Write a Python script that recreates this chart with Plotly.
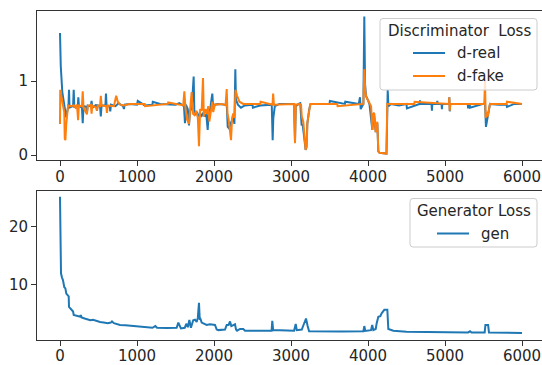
import plotly.graph_objects as go

# ---------------- data ----------------
real_steps = [0, 10, 30, 60, 80, 100, 110, 117, 124, 170, 178, 186, 230, 238, 246, 285, 295, 305,
              340, 350, 360, 400, 410, 420, 470, 480, 490, 520, 530, 540, 590, 597, 605, 645, 653, 662,
              720, 760, 820, 830, 840, 900, 1000, 1010, 1100, 1200, 1205, 1300, 1400, 1500, 1550, 1600,
              1610, 1623, 1635, 1660, 1675, 1690, 1710, 1736, 1745, 1760, 1780, 1800, 1820, 1840, 1860,
              1880, 1900, 1918, 1930, 1950, 1978, 1990, 2010, 2050, 2100, 2150, 2165, 2178, 2195, 2210,
              2230, 2250, 2265, 2277, 2285, 2310, 2350, 2400, 2500, 2505, 2600, 2700, 2750, 2762, 2770,
              2790, 2850, 2950, 3040, 3052, 3062, 3100, 3120, 3138, 3150, 3170, 3190, 3200, 3212, 3234,
              3250, 3270, 3400, 3500, 3505, 3700, 3705, 3880, 3896, 3905, 3940, 3952, 3962, 3974, 4004,
              4020, 4056, 4078, 4100, 4121, 4134, 4150, 4240, 4250, 4256, 4265, 4300, 4400, 4500, 4505,
              4670, 4675, 4680, 4825, 4830, 4835, 4895, 4900, 4905, 4955, 4960, 4965, 5050, 5056, 5062,
              5068, 5295, 5300, 5305, 5320, 5325, 5500, 5520, 5532, 5545, 5560, 5584, 5700, 5800, 5805,
              5900, 6000]
d_real = [1.65, 1.20, 0.85, 0.62, 0.51, 0.62, 0.66, 0.88, 0.64, 0.66, 0.88, 0.65, 0.64, 0.78, 0.66,
          0.64, 0.43, 0.66, 0.65, 0.57, 0.67, 0.66, 0.73, 0.64, 0.68, 0.60, 0.67, 0.66, 0.52, 0.67,
          0.67, 0.83, 0.66, 0.66, 0.59, 0.68, 0.66, 0.70, 0.66, 0.62, 0.68, 0.69, 0.68, 0.73, 0.67,
          0.68, 0.72, 0.69, 0.68, 0.68, 0.70, 0.66,
          0.66, 0.43, 0.68, 0.62, 0.40, 0.60, 0.62, 1.06, 0.58, 0.54, 0.58, 0.52, 0.56, 0.53, 0.57,
          0.52, 0.55, 0.34, 0.58, 0.62, 0.83, 0.62, 0.68, 0.69, 0.68, 0.68, 0.70, 0.38, 0.36, 0.40,
          0.45, 0.52, 0.42, 1.16, 0.75, 0.68, 0.64, 0.67, 0.68, 0.64, 0.67, 0.68, 0.68, 0.20, 0.50,
          0.66, 0.69, 0.69, 0.69, 0.18, 0.66, 0.69, 0.70, 0.40, 0.42, 0.25, 0.07, 0.10, 0.42, 0.60,
          0.68, 0.69, 0.69, 0.69, 0.73, 0.69, 0.72, 0.69, 0.78, 0.62, 0.69, 1.87, 0.95, 0.80, 0.73,
          0.68, 0.34, 0.57, 0.31, 0.43, 0.05, 0.03, 0.02, 0.69, 0.88, 0.66, 0.69, 0.67, 0.69, 0.63,
          0.69, 0.74, 0.69, 0.69, 0.60, 0.69, 0.69, 0.73, 0.69, 0.69, 0.62, 0.69, 0.69, 0.78, 0.59,
          0.69, 0.69, 0.63, 0.69, 0.69, 0.64, 0.69, 0.70, 0.38, 0.45, 0.55, 0.69, 0.68, 0.68, 0.65,
          0.69, 0.69]

fake_steps = [0, 3, 30, 55, 62, 70, 80, 95, 105, 130, 180, 200, 220, 235, 245, 285, 295, 305, 350,
              360, 400, 410, 420, 470, 480, 490, 520, 530, 540, 600, 610, 620, 700, 730, 750, 780, 830,
              900, 1100, 1105, 1400, 1405, 1600, 1615, 1630, 1650, 1675, 1690, 1710, 1725, 1745, 1770,
              1790, 1805, 1820, 1840, 1857, 1868, 1890, 1910, 1925, 1940, 1960, 1978, 1990, 2010, 2100,
              2150, 2165, 2175, 2190, 2205, 2221, 2235, 2250, 2265, 2280, 2300, 2330, 2380, 2600, 2605,
              2760, 2768, 2778, 3040, 3052, 3062, 3110, 3130, 3140, 3160, 3170, 3182, 3190, 3205, 3212,
              3230, 3250, 3600, 3605, 3940, 3952, 3965, 3980, 4004, 4020, 4040, 4056, 4067, 4078, 4090,
              4100, 4110, 4121, 4134, 4150, 4240, 4250, 4600, 4605, 5050, 5056, 5062, 5068, 5510, 5520,
              5528, 5540, 5555, 5570, 5584, 5800, 5805, 6000]
d_fake = [0.42, 0.88, 0.72, 0.58, 0.22, 0.20, 0.40, 0.60, 0.67, 0.66, 0.67, 0.64, 0.68, 0.47, 0.67,
          0.66, 0.86, 0.64, 0.55, 0.66, 0.68, 0.56, 0.67, 0.64, 0.60, 0.67, 0.66, 0.80, 0.67, 0.66,
          0.57, 0.67, 0.66, 0.80, 0.72, 0.68, 0.67, 0.69, 0.69, 0.66, 0.69, 0.71, 0.67, 0.86, 0.62,
          0.48, 0.42, 0.62, 0.85, 0.56, 0.54, 0.60, 0.50, 0.12, 0.62, 0.60, 1.04, 0.52, 0.62, 0.56,
          0.66, 0.45, 0.62, 0.72, 0.58, 0.68, 0.69, 0.67, 0.89, 0.56, 0.48, 0.34, 0.20, 0.50, 0.56,
          0.50, 0.88, 0.80, 0.72, 0.69, 0.69, 0.72, 0.68, 0.83, 0.68, 0.69, 0.16, 0.68, 0.69, 0.68,
          0.52, 0.45, 0.29, 0.20, 0.07, 0.12, 0.43, 0.55, 0.69, 0.69, 0.66, 0.69, 1.16, 0.85, 0.78,
          0.73, 0.70, 0.66, 0.34, 0.55, 0.57, 0.45, 0.31, 0.40, 0.45, 0.05, 0.03, 0.02, 0.69, 0.69,
          0.72, 0.69, 0.78, 0.60, 0.69, 0.69, 1.01, 0.50, 0.58, 0.52, 0.62, 0.69, 0.69, 0.72, 0.69]

gen_steps = [0, 5, 9, 13, 25, 39, 56, 70, 82, 100, 113, 117, 140, 156, 170, 178, 200, 230, 264, 270,
             280, 320, 394, 430, 480, 520, 567, 620, 660, 675, 700, 779, 850, 900, 1000, 1100, 1200,
             1238, 1260, 1390, 1500, 1515, 1537, 1555, 1570, 1620, 1640, 1660, 1680, 1700, 1730, 1753,
             1775, 1790, 1805, 1815, 1825, 1840, 1883, 1905, 1948, 2013, 2035, 2056, 2143, 2165, 2190,
             2208, 2225, 2245, 2273, 2286, 2300, 2338, 2380, 2403, 2748, 2757, 2768, 3040, 3061, 3075,
             3140, 3160, 3195, 3216, 3235, 3658, 3940, 3952, 3965, 4039, 4055, 4069, 4100, 4113, 4134,
             4160, 4177, 4212, 4251, 4264, 4300, 4329, 4500, 5000, 5300, 5325, 5345, 5515, 5525, 5560,
             5571, 6000]
gen = [25.1, 20.0, 14.8, 11.9, 11.2, 10.7, 9.5, 9.3, 8.4, 8.0, 7.9, 6.1, 5.8, 5.5, 5.3, 4.7, 4.6,
       4.5, 4.4, 4.7, 4.3, 4.1, 3.8, 3.9, 3.6, 3.5, 3.4, 3.3, 3.4, 3.6, 3.3, 3.0, 2.95, 2.9, 2.7, 2.6,
       2.5, 2.8, 2.5, 2.45, 2.4, 2.5, 3.4, 2.9, 2.4, 2.5, 3.2, 2.6, 3.85, 2.5, 3.8, 3.9, 3.5, 4.2, 6.8,
       3.9, 4.0, 3.4, 3.2, 3.0, 3.1, 3.0, 2.2, 2.1, 2.2, 3.0, 3.0, 3.6, 2.8, 2.9, 3.1, 2.2, 2.0, 2.3,
       2.3, 2.0, 2.0, 3.7, 2.1, 2.0, 3.15, 2.1, 2.2, 2.9, 4.1, 2.8, 1.9, 1.85, 1.9, 2.8, 1.95, 2.1,
       3.0, 2.1, 2.3, 3.3, 4.4, 4.5, 5.0, 5.6, 5.6, 2.3, 2.1, 2.0, 1.8, 1.7, 1.7, 1.9, 1.7, 1.7, 3.0,
       3.0, 1.7, 1.6]

x_ticks = [0, 1000, 2000, 3000, 4000, 5000, 6000]
top_y_ticks = [0, 1]
bottom_y_ticks = [10, 20]

top_legend_title = "Discriminator\u00a0\u00a0Loss"
top_legend_names = ["d-real", "d-fake"]
bottom_legend_title = "Generator Loss"
bottom_legend_names = ["gen"]

# ---------------- figure ----------------
W, H = 542, 365
BLUE = "#1f77b4"
ORANGE = "#ff7f0e"
TXT = "#262626"
FONT = "DejaVu Sans"
FS = 15

fig = go.Figure()
fig.add_trace(go.Scatter(x=real_steps, y=d_real, mode="lines", name=top_legend_names[0],
                         line=dict(color=BLUE, width=2), xaxis="x", yaxis="y"))
fig.add_trace(go.Scatter(x=fake_steps, y=d_fake, mode="lines", name=top_legend_names[1],
                         line=dict(color=ORANGE, width=2), xaxis="x", yaxis="y"))
fig.add_trace(go.Scatter(x=gen_steps, y=gen, mode="lines", name=bottom_legend_names[0],
                         line=dict(color=BLUE, width=2), xaxis="x2", yaxis="y2"))


def px_x(p):
    return p / W


def px_y(p):
    return (H - p) / H


# x mapping: step 0 at px 60, step 6000 at px 522
sx = (522 - 60) / 6000.0
x_left = 37
x_range = [(x_left - 60) / sx, (W - 60) / sx]

axis_common = dict(showgrid=False, zeroline=False, showline=True, linecolor="#333333", linewidth=1,
                   ticks="outside", ticklen=5, tickwidth=1, tickcolor="#333333", automargin=False,
                   tickfont=dict(family=FONT, size=FS, color=TXT))

top_range = [(155 - 160) / 74.0, (155 - 11) / 74.0]
bot_range = [(342.3 - 340) / 5.8, (342.3 - 191) / 5.8]


def rounded_box(x0, y0, x1, y1, r=3):
    X0, X1 = px_x(x0), px_x(x1)
    Y0, Y1 = px_y(y0), px_y(y1)
    rx, ry = r / W, r / H
    path = (f"M {X0+rx},{Y0} L {X1-rx},{Y0} Q {X1},{Y0} {X1},{Y0-ry} "
            f"L {X1},{Y1+ry} Q {X1},{Y1} {X1-rx},{Y1} "
            f"L {X0+rx},{Y1} Q {X0},{Y1} {X0},{Y1+ry} "
            f"L {X0},{Y0-ry} Q {X0},{Y0} {X0+rx},{Y0} Z")
    return dict(type="path", path=path, xref="paper", yref="paper",
                fillcolor="rgba(255,255,255,0.8)", line=dict(color="#cccccc", width=1),
                layer="above")


def handle(x0, x1, y, color):
    return dict(type="line", xref="paper", yref="paper", x0=px_x(x0), x1=px_x(x1),
                y0=px_y(y), y1=px_y(y), line=dict(color=color, width=2), layer="above")


def label(text, x, y, anchor="left"):
    return dict(text=text, x=px_x(x), y=px_y(y), xref="paper", yref="paper", showarrow=False,
                xanchor=anchor, yanchor="middle", font=dict(family=FONT, size=FS, color=TXT))


shapes = [
    rounded_box(380, 18.5, 537, 90),
    handle(413, 445, 53, BLUE),
    handle(413, 445, 76, ORANGE),
    rounded_box(410, 198.5, 537, 247),
    handle(437, 469, 233.5, BLUE),
]
annotations = [
    label(top_legend_title, 459, 31, "center"),
    label(top_legend_names[0], 455, 53),
    label(top_legend_names[1], 455, 76),
    label(bottom_legend_title, 474, 211, "center"),
    label(bottom_legend_names[0], 479, 233.5),
]

fig.update_layout(
    width=W, height=H,
    margin=dict(l=0, r=0, t=0, b=0, autoexpand=False),
    paper_bgcolor="white", plot_bgcolor="white",
    showlegend=False,
    xaxis=dict(axis_common, domain=[px_x(x_left), 1.0], range=x_range, tickvals=x_ticks,
               anchor="y", mirror=True, ticklabelstandoff=-2),
    yaxis=dict(axis_common, domain=[px_y(160), px_y(11)], range=top_range, tickvals=top_y_ticks,
               anchor="x"),
    xaxis2=dict(axis_common, domain=[px_x(x_left), 1.0], range=x_range, tickvals=x_ticks,
                anchor="y2", mirror=True, ticklabelstandoff=-3),
    yaxis2=dict(axis_common, domain=[px_y(340), px_y(191)], range=bot_range, tickvals=bottom_y_ticks,
                anchor="x2"),
    shapes=shapes,
    annotations=annotations,
)

fig.write_html("out.html", config={"displayModeBar": False},
               post_script="document.body.style.margin='0px';document.body.style.overflow='hidden';")
